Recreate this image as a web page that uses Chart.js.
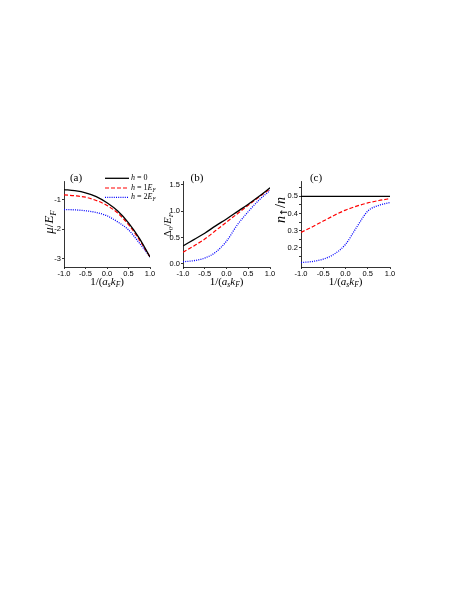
<!DOCTYPE html>
<html>
<head>
  <title>Crossover panels</title>
  <script src="https://cdn.jsdelivr.net/npm/chart.js"></script>
  <style>
    body {
      margin: 0;
      padding: 0;
      background-color: #ffffff;
    }

    .wrap {
      position: relative;
      width: 463px;
      height: 599px;
    }

    canvas {
      position: absolute;
    }
  </style>
</head>
<body>
  <div class="wrap">
    <canvas id="chartA" width="160" height="160" style="left:5px;top:140px"></canvas>
    <canvas id="chartB" width="122" height="160" style="left:158px;top:140px"></canvas>
    <canvas id="chartC" width="132" height="160" style="left:268px;top:140px"></canvas>
  </div>
  <script>
    // 1/(a_s k_F) sample points
    const xs = [-1, -0.75, -0.5, -0.25, 0, 0.25, 0.5, 0.75, 1];

    // (a) mu / E_F
    const muH0 = [-0.65, -0.69, -0.76, -0.89, -1.10, -1.38, -1.78, -2.30, -2.94];
    const muH1 = [-0.83, -0.86, -0.91, -1.02, -1.19, -1.45, -1.84, -2.35, -2.94];
    const muH2 = [-1.33, -1.34, -1.37, -1.43, -1.54, -1.75, -2.02, -2.46, -2.94];

    // (b) Delta_0 / E_F
    const gapH0 = [0.34, 0.46, 0.58, 0.72, 0.85, 0.99, 1.13, 1.28, 1.44];
    const gapH1 = [0.22, 0.34, 0.47, 0.63, 0.79, 0.95, 1.11, 1.27, 1.42];
    const gapH2 = [0.04, 0.06, 0.11, 0.22, 0.43, 0.74, 0.99, 1.21, 1.39];

    // (c) n_up / n
    const nH0 = [0.5, 0.5, 0.5, 0.5, 0.5, 0.5, 0.5, 0.5, 0.5];
    const nH1 = [0.29, 0.322, 0.356, 0.39, 0.42, 0.443, 0.462, 0.476, 0.487];
    const nH2 = [0.114, 0.12, 0.134, 0.164, 0.22, 0.32, 0.414, 0.448, 0.464];

    // tick values
    const xTicks = [-1, -0.5, 0, 0.5, 1];
    const muTicks = [-3, -2, -1];
    const gapTicks = [0, 0.5, 1, 1.5];
    const nTicks = [0.15, 0.2, 0.25, 0.3, 0.35, 0.4, 0.45, 0.5, 0.55];
    const nTickLabels = [0.2, 0.3, 0.4, 0.5];

    const legendNames = [
      [['h', 'i'], [' = 0', 'r']],
      [['h', 'i'], [' = 1', 'r'], ['E', 'i'], ['F', 'si']],
      [['h', 'i'], [' = 2', 'r'], ['E', 'i'], ['F', 'si']]
    ];

    const lineStyles = [
      { color: '#000000', width: 1.3, dash: [] },
      { color: '#ff0000', width: 1.2, dash: [4, 2] },
      { color: '#0000ff', width: 1.3, dash: [1, 1.2] }
    ];

    const serif = '"Liberation Serif", "Times New Roman", serif';

    // text with italic parts and subscripts ('a' = arrow glyph font)
    function drawRich(ctx, parts, x, y, size, align) {
      let w = 0;
      const items = parts.map(([t, st]) => {
        const sub = st.indexOf('s') >= 0;
        const fs = sub ? size * 0.68 : size;
        const fam = st.indexOf('a') >= 0 ? '"DejaVu Sans", sans-serif' : serif;
        const font = (st.indexOf('i') >= 0 ? 'italic ' : '') + fs + 'px ' + fam;
        ctx.font = font;
        const item = { t: t, font: font, dy: sub ? size * 0.28 : 0, x: w };
        w += ctx.measureText(t).width;
        return item;
      });
      const x0 = align === 'center' ? x - w / 2 : x;
      ctx.textAlign = 'left';
      ctx.textBaseline = 'middle';
      items.forEach(it => {
        ctx.font = it.font;
        ctx.fillText(it.t, x0 + it.x, y + it.dy);
      });
    }

    const xTitle = [['1/(', 'r'], ['a', 'i'], ['s', 'si'], ['k', 'i'], ['F', 'si'], [')', 'r']];

    function textPlugin(o) {
      return {
        id: 'panelText',
        afterDraw(chart) {
          const ctx = chart.ctx;
          const a = chart.chartArea;
          ctx.save();
          ctx.fillStyle = '#000';
          drawRich(ctx, xTitle, (a.left + a.right) / 2, a.bottom + 15, 11, 'center');
          drawRich(ctx, [[o.label, 'r']], a.left + o.labelX, a.top - 3, 11, 'center');

          ctx.save();
          ctx.translate(a.left + o.yTitleX, a.top + o.yTitleY);
          ctx.rotate(-Math.PI / 2);
          drawRich(ctx, o.yTitle, 0, 0, o.yTitleSize, 'center');
          ctx.restore();

          if (o.legend) {
            const ys = [-2.7, 7, 16.3];
            legendNames.forEach((name, i) => {
              const st = lineStyles[i];
              ctx.beginPath();
              ctx.setLineDash(st.dash);
              ctx.strokeStyle = st.color;
              ctx.lineWidth = st.width;
              ctx.moveTo(a.left + 41, a.top + ys[i]);
              ctx.lineTo(a.left + 65, a.top + ys[i]);
              ctx.stroke();
              ctx.setLineDash([]);
              drawRich(ctx, name, a.left + 67, a.top + ys[i], 8, 'left');
            });
          }
          ctx.restore();
        }
      };
    }

    function makePanel(id, o) {
      const datasets = o.series.map((arr, i) => ({
        data: xs.map((x, j) => ({ x: x, y: arr[j] })),
        borderColor: lineStyles[i].color,
        borderWidth: lineStyles[i].width,
        borderDash: lineStyles[i].dash,
        pointRadius: 0,
        fill: false,
        cubicInterpolationMode: 'monotone'
      }));
      const tickFont = { family: '"Liberation Sans", Arial, sans-serif', size: 7.5 };
      return new Chart(document.getElementById(id), {
        type: 'line',
        data: { datasets: datasets },
        options: {
          responsive: false,
          animation: false,
          layout: { padding: { top: 41, right: o.padRight, left: 0, bottom: 0 } },
          plugins: {
            legend: { display: false },
            tooltip: { enabled: false }
          },
          scales: {
            x: {
              type: 'linear',
              min: -1,
              max: 1,
              afterBuildTicks: s => { s.ticks = xTicks.map(v => ({ value: v })); },
              afterFit: s => { s.height = 33; },
              ticks: {
                font: tickFont,
                color: '#000',
                padding: 0,
                maxRotation: 0,
                autoSkip: false,
                callback: v => v.toFixed(1)
              },
              grid: { drawOnChartArea: false, tickLength: 2, color: '#000', lineWidth: 0.8 },
              border: { color: '#000', width: 0.8 }
            },
            y: {
              type: 'linear',
              min: o.yMin,
              max: o.yMax,
              afterBuildTicks: s => { s.ticks = o.yTicks.map(v => ({ value: v })); },
              afterFit: s => { s.width = o.yWidth; },
              ticks: {
                font: tickFont,
                color: '#000',
                padding: 1,
                autoSkip: false,
                callback: o.yFormat
              },
              grid: { drawOnChartArea: false, tickLength: 2, color: '#000', lineWidth: 0.8 },
              border: { color: '#000', width: 0.8 }
            }
          }
        },
        plugins: [textPlugin(o)]
      });
    }

    makePanel('chartA', {
      series: [muH0, muH1, muH2],
      yMin: -3.28, yMax: -0.36, yTicks: muTicks,
      yFormat: v => String(v),
      yWidth: 59, padRight: 15,
      label: '(a)', labelX: 12,
      yTitle: [['\u03bc', 'i'], ['/', 'r'], ['E', 'i'], ['F', 'si']],
      yTitleX: -14, yTitleY: 41, yTitleSize: 13,
      legend: true
    });

    makePanel('chartB', {
      series: [gapH0, gapH1, gapH2],
      yMin: -0.06, yMax: 1.57, yTicks: gapTicks,
      yFormat: v => v.toFixed(1),
      yWidth: 25, padRight: 10,
      label: '(b)', labelX: 14,
      yTitle: [['\u0394', 'r'], ['0', 'sr'], ['/', 'r'], ['E', 'i'], ['F', 'si']],
      yTitleX: -15, yTitleY: 44, yTitleSize: 10.5,
      legend: false
    });

    makePanel('chartC', {
      series: [nH0, nH1, nH2],
      yMin: 0.088, yMax: 0.59, yTicks: nTicks,
      yFormat: v => nTickLabels.some(t => Math.abs(t - v) < 1e-6) ? v.toFixed(1) : '',
      yWidth: 33, padRight: 10,
      label: '(c)', labelX: 15,
      yTitle: [['n', 'i'], ['\u2191', 'sa'], ['/', 'r'], ['n', 'i']],
      yTitleX: -20, yTitleY: 29, yTitleSize: 14,
      legend: false
    });
  </script>
</body>
</html>
